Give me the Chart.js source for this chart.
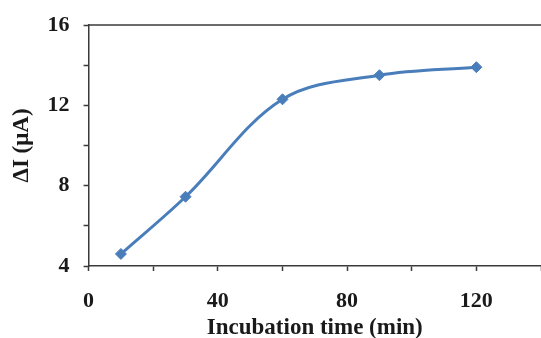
<!DOCTYPE html>
<html>
<head>
<meta charset="utf-8">
<script src="https://cdn.jsdelivr.net/npm/chart.js@4.4.1/dist/chart.umd.min.js"></script>
<style>
  html, body { margin: 0; padding: 0; background: #fff; overflow: hidden; }
  /* plot box runs off the right edge like the source figure */
  #wrap { width: 558px; height: 338px; }
</style>
</head>
<body>
<div id="wrap"><canvas id="incubationChart"></canvas></div>
<script>
// Incubation time (min) vs current change (uA)
const incubationTimes = [10, 30, 60, 90, 120];
const deltaCurrent = [4.6, 7.45, 12.3, 13.5, 13.9];
const xLabelTicks = [0, 40, 80, 120];
const yLabelTicks = [4, 8, 12, 16];

const colors = {
  line: "#4a7ebb",
  axis: "#3a3a3a",
  text: "#1a1a1a",
};

const fontFamily = "'Liberation Serif', 'Times New Roman', serif";

// draws the top edge of the plot box
const topBorder = {
  id: "topBorder",
  afterDraw(chart) {
    const { ctx, chartArea } = chart;
    ctx.save();
    ctx.strokeStyle = colors.axis;
    ctx.lineWidth = 1.5;
    ctx.beginPath();
    ctx.moveTo(chartArea.left, chartArea.top);
    ctx.lineTo(chartArea.right + 2, chartArea.top);
    ctx.stroke();
    ctx.restore();
  },
};

new Chart(document.getElementById("incubationChart"), {
  type: "line",
  data: {
    datasets: [
      {
        data: incubationTimes.map((t, i) => ({ x: t, y: deltaCurrent[i] })),
        borderColor: colors.line,
        backgroundColor: colors.line,
        borderWidth: 3,
        tension: 0.35,
        pointStyle: "rectRot",
        pointRadius: 5.5,
        pointBorderWidth: 1,
      },
    ],
  },
  options: {
    responsive: true,
    maintainAspectRatio: false,
    animation: false,
    layout: { padding: { top: 10, right: 0, left: 8, bottom: -4 } },
    plugins: { legend: { display: false }, tooltip: { enabled: false } },
    scales: {
      x: {
        type: "linear",
        min: 0,
        max: 140,
        border: { color: colors.axis, width: 1.5 },
        grid: { drawOnChartArea: false, color: colors.axis, tickLength: 5, tickWidth: 1.5 },
        ticks: {
          stepSize: 20,
          padding: 17,
          color: colors.text,
          maxRotation: 0,
          font: { family: fontFamily, size: 22, weight: "bold" },
          callback: (v) => (xLabelTicks.includes(v) ? String(v) : ""),
        },
        title: {
          display: true,
          text: "Incubation time (min)",
          color: colors.text,
          padding: { top: -17, bottom: 0 },
          font: { family: fontFamily, size: 23, weight: "bold" },
        },
      },
      y: {
        min: 4,
        max: 16,
        border: { color: colors.axis, width: 1.5 },
        grid: { drawOnChartArea: false, color: colors.axis, tickLength: 5, tickWidth: 1.5 },
        ticks: {
          stepSize: 2,
          padding: 14,
          color: colors.text,
          font: { family: fontFamily, size: 22, weight: "bold", lineHeight: 1 },
          callback: (v) => (yLabelTicks.includes(v) ? String(v) : ""),
        },
        title: {
          display: true,
          text: "ΔI (μA)",
          color: colors.text,
          padding: { top: 0, bottom: -2 },
          font: { family: fontFamily, size: 23, weight: "bold" },
        },
      },
    },
  },
  plugins: [topBorder],
});
</script>
</body>
</html>
